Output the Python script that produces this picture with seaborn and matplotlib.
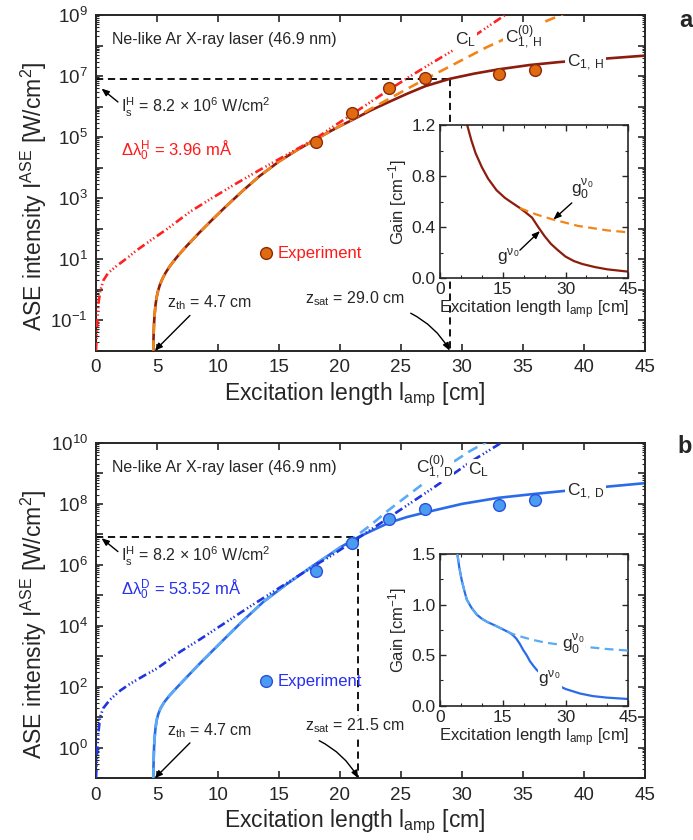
import numpy as np
import matplotlib
matplotlib.use("Agg")
import matplotlib.pyplot as plt
from matplotlib.ticker import LogLocator, FuncFormatter, MultipleLocator, NullFormatter
import seaborn as sns

# ---------------- panel a : homogeneous broadening ----------------
# shared low-intensity branch of C1,H and C1,H^(0) (log10 of W/cm^2)
h_low_x = [4.70, 4.71, 4.73, 4.76, 4.81, 4.88, 4.97, 5.1, 5.25, 5.45, 5.7, 6.0, 6.3, 6.6, 7.0, 7.5,
           8.5, 9.5, 10.5, 12.0, 13.4, 15.0, 16.5, 18.0, 19.2]
h_low_log = [-2.0, -1.7, -1.4, -1.1, -0.8, -0.5, -0.25, -0.02, 0.17, 0.36, 0.55, 0.74, 0.9, 1.05, 1.24, 1.46,
             1.88, 2.28, 2.67, 3.23, 3.72, 4.2, 4.58, 4.92, 5.19]
h_c10_x = [21.0, 22.5, 24.0, 25.5, 27.0, 29.5, 32.0, 34.5, 36.9, 38.4]
h_c10_log = [5.58, 5.92, 6.25, 6.58, 6.9, 7.42, 7.94, 8.4, 8.8, 9.05]
h_c1_x = [20.0, 21.0, 22.5, 24.0, 25.5, 27.0, 29.0, 31.0, 33.0, 35.5, 38.0, 42.0, 45.0]
h_c1_log = [5.36, 5.56, 5.87, 6.15, 6.42, 6.67, 6.91, 7.08, 7.22, 7.36, 7.46, 7.58, 7.67]
h_cl_x = [0.0, 0.06, 0.12, 0.2, 0.35, 0.6, 1.0, 1.7, 2.5, 3.3, 4.5, 5.8, 7.7, 9.5, 11.5, 13.4,
          15.9, 18.0, 19.2, 21.0, 22.5, 24.1, 25.7, 27.5, 29.3, 31.5, 33.6]
h_cl_log = [-2.0, -1.5, -1.0, -0.45, -0.05, 0.3, 0.55, 0.78, 1.02, 1.28, 1.62, 1.98, 2.55, 3.0, 3.48, 3.92,
            4.48, 4.95, 5.28, 5.75, 6.15, 6.57, 6.98, 7.42, 7.85, 8.45, 9.02]
h_exp_x = [18, 21, 24, 27, 33, 36]
h_exp_I = [7.1e4, 6.0e5, 4.0e6, 8.5e6, 1.2e7, 1.6e7]

# gain along the amplifier (inset a)
h_g_x = [6.5, 7.5, 8.5, 10.0, 11.5, 13.5, 15.5, 17.5, 19.1, 20.5, 22.0, 23.5, 25.0, 26.5, 28.0, 30.0,
         32.0, 34.0, 37.0, 40.0, 45.0]
h_g = [1.2, 1.08, 0.98, 0.87, 0.78, 0.69, 0.63, 0.585, 0.55, 0.515, 0.475, 0.40, 0.33, 0.27, 0.225, 0.17,
       0.135, 0.112, 0.088, 0.07, 0.052]
h_g0_x = [19.1, 21.0, 23.0, 25.0, 27.0, 30.0, 33.0, 36.0, 40.0, 45.0]
h_g0 = [0.55, 0.525, 0.50, 0.48, 0.46, 0.435, 0.41, 0.395, 0.375, 0.36]

# ---------------- panel b : Doppler broadening ----------------
d_low_x = [4.70, 4.71, 4.73, 4.76, 4.81, 4.88, 4.97, 5.1, 5.3, 5.6, 6.0, 6.5, 7.4, 8.5, 9.6, 10.4, 12.0,
           13.7, 15.5, 17.0, 18.0, 19.2]
d_low_log = [-1.0, -0.7, -0.35, 0.0, 0.35, 0.65, 0.9, 1.1, 1.3, 1.5, 1.7, 1.92, 2.3, 2.76, 3.2, 3.52, 4.15,
             4.78, 5.33, 5.75, 6.03, 6.35]
d_c10_x = [20.0, 21.0, 22.5, 24.0, 25.5, 27.4, 29.0, 30.6, 32.3]
d_c10_log = [6.57, 6.85, 7.3, 7.8, 8.26, 8.84, 9.3, 9.72, 10.1]
d_c1_x = [20.0, 21.0, 21.5, 22.5, 24.0, 25.5, 27.0, 30.0, 33.0, 36.0, 38.0, 42.0, 45.0]
d_c1_log = [6.57, 6.8, 6.91, 7.1, 7.38, 7.57, 7.72, 8.0, 8.2, 8.33, 8.41, 8.57, 8.68]
d_cl_x = [0.0, 0.05, 0.1, 0.2, 0.33, 0.6, 1.15, 2.0, 2.8, 4.0, 5.0, 6.9, 8.5, 10.4, 12.3, 14.3,
          16.5, 18.6, 19.2, 21.0, 23.3, 25.3, 27.4, 29.0, 30.7, 32.2, 33.4]
d_cl_log = [-1.0, -0.6, -0.1, 0.5, 1.0, 1.3, 1.58, 1.88, 2.1, 2.38, 2.6, 3.15, 3.55, 4.05, 4.55, 5.06,
            5.62, 6.14, 6.28, 6.75, 7.36, 7.9, 8.46, 8.9, 9.38, 9.75, 10.05]
d_exp_x = [18, 21, 24, 27, 33, 36]
d_exp_I = [6.5e5, 5.4e6, 3.1e7, 6.8e7, 9.1e7, 1.35e8]

d_g_x = [4.15, 4.6, 5.2, 5.8, 6.4, 7.5, 8.8, 10.0, 11.2, 12.8, 14.3, 15.5, 16.7, 17.5, 18.3, 19.1, 19.9,
         20.7, 21.5, 22.3, 23.1, 24.0, 25.5, 27.5, 30.0, 33.5, 36.5, 39.8, 45.0]
d_g = [1.5, 1.37, 1.24, 1.14, 1.05, 0.97, 0.90, 0.86, 0.83, 0.80, 0.77, 0.745, 0.72, 0.695, 0.66, 0.61, 0.55,
       0.50, 0.44, 0.395, 0.355, 0.32, 0.27, 0.215, 0.165, 0.12, 0.095, 0.08, 0.066]
d_g0_x = [4.15, 4.6, 5.2, 5.8, 6.4, 7.5, 8.8, 10.0, 11.2, 12.8, 14.3, 15.5, 16.7, 18.0, 20.0, 22.3, 25.0,
          27.5, 29.5, 32.0, 35.1, 40.0, 45.0]
d_g0 = [1.5, 1.37, 1.24, 1.14, 1.05, 0.97, 0.90, 0.86, 0.83, 0.80, 0.77, 0.745, 0.72, 0.70, 0.675, 0.65, 0.625,
        0.61, 0.60, 0.59, 0.58, 0.56, 0.545]

I_sat = 8.2e6
z_th = 4.7
z_sat_h = 29.0
z_sat_d = 21.5

sns.set_style("ticks")
plt.rcParams["font.family"] = ["Liberation Sans", "DejaVu Sans"]
plt.rcParams["mathtext.default"] = "regular"
plt.rcParams["axes.linewidth"] = 1.4

fig = plt.figure(figsize=(6.93, 8.4), dpi=100)
ax_a = fig.add_axes([0.1385, 0.5825, 0.7922, 0.3996])
ax_b = fig.add_axes([0.1385, 0.0735, 0.7922, 0.3992])
in_a = fig.add_axes([0.6349, 0.6687, 0.2717, 0.1825])
in_b = fig.add_axes([0.6349, 0.1599, 0.2717, 0.1806])

dashdotdot = (0, (3.2, 1.2, 0.5, 0.9, 0.5, 0.9, 0.5, 1.2))
dash = (0, (4.0, 2.4))
arrow_kw = dict(arrowstyle="-|>,head_length=0.45,head_width=0.18", color="black", lw=1.0,
                shrinkA=0, shrinkB=0)
white = dict(facecolor="white", edgecolor="none", pad=1.0)


def line(ax, x, y, color, ls="-", lw=1.8, z=2):
    sns.lineplot(x=np.asarray(x, float), y=np.asarray(y, float), ax=ax, color=color,
                 linewidth=lw, linestyle=ls, estimator=None, sort=False, zorder=z)


def main_style(ax, ylo, yhi, odd):
    ax.set_xlim(0, 45)
    ax.set_yscale("log")
    ax.set_ylim(ylo, yhi)
    ax.xaxis.set_major_locator(MultipleLocator(5))
    ax.yaxis.set_major_locator(LogLocator(base=10, numticks=40))
    ax.yaxis.set_minor_locator(LogLocator(base=10, subs=np.arange(2, 10), numticks=40))
    ax.yaxis.set_minor_formatter(NullFormatter())

    def fmt(v, pos):
        e = int(round(np.log10(v)))
        keep = (e % 2 == 1) if odd else (e % 2 == 0)
        return f"10$^{{{e}}}$" if keep else ""

    ax.yaxis.set_major_formatter(FuncFormatter(fmt))
    ax.tick_params(which="both", direction="in", top=True, right=True, labelsize=13.5, pad=6)
    ax.tick_params(which="major", length=5, width=1.2)
    ax.tick_params(which="minor", length=2.5, width=0.8)
    ax.set_xlabel("Excitation length l$_{amp}$ [cm]", fontsize=16.5)
    ax.set_ylabel("ASE intensity I$^{ASE}$ [W/cm$^2$]", fontsize=16.5)
    ax.xaxis.set_label_coords(0.472, -0.088)
    ax.yaxis.set_label_coords(-0.085, 0.46)
    for s in ax.spines.values():
        s.set_linewidth(1.4)


def inset_style(ax, ytop, ymajor, yminor):
    ax.set_xlim(0, 45)
    ax.set_ylim(0, ytop)
    ax.xaxis.set_major_locator(MultipleLocator(15))
    ax.xaxis.set_minor_locator(MultipleLocator(5))
    ax.yaxis.set_major_locator(MultipleLocator(ymajor))
    ax.yaxis.set_minor_locator(MultipleLocator(yminor))
    ax.yaxis.set_major_formatter(FuncFormatter(lambda v, p: f"{v:.1f}"))
    ax.tick_params(which="both", direction="in", top=True, right=True, labelsize=12.5, pad=3)
    ax.tick_params(which="major", length=4, width=1.0)
    ax.tick_params(which="minor", length=2, width=0.8)
    ax.set_xlabel("Excitation length l$_{amp}$ [cm]", fontsize=12, labelpad=1)
    ax.set_ylabel("Gain [cm$^{-1}$]", fontsize=12, labelpad=2)
    for s in ax.spines.values():
        s.set_linewidth(1.2)


def panel(ax, inset, low_x, low_log, c10_x, c10_log, c1_x, c1_log, cl_x, cl_log, exp_x, exp_I,
          g_x, g, g0_x, g0, z_sat, cols, ylo, yhi, odd, name, dl_text, lab_pos, exp_y, zth_y, gaps):
    c_solid, c_dash, c_l, c_fill, c_edge, c_txt = cols
    low_I = 10.0 ** np.asarray(low_log)
    # saturated solution, small-signal solution, linear model
    line(ax, list(low_x) + list(c1_x), list(low_I) + list(10.0 ** np.asarray(c1_log)), c_solid, "-", 1.9, 2)
    line(ax, list(low_x) + list(c10_x), list(low_I) + list(10.0 ** np.asarray(c10_log)), c_dash, dash, 1.9, 3)
    line(ax, cl_x, 10.0 ** np.asarray(cl_log), c_l, dashdotdot, 1.9, 4)
    sns.scatterplot(x=exp_x, y=exp_I, ax=ax, s=72, color=c_fill, edgecolor=c_edge, linewidth=1.0, zorder=5)

    # saturation intensity / length guides
    ax.plot([0, z_sat], [I_sat, I_sat], color="black", lw=1.3, ls=(0, (4, 2.6)), zorder=1)
    ax.plot([z_sat, z_sat], [I_sat, ylo], color="black", lw=1.3, ls=(0, (4, 2.6)), zorder=1)

    main_style(ax, ylo, yhi, odd)

    ax.text(0.030, 0.928, "Ne-like Ar X-ray laser (46.9 nm)", transform=ax.transAxes,
            fontsize=11.5, va="center", ha="left")
    ax.text(0.045, lab_pos[0], "I$_s^H$ = 8.2 × 10$^6$ W/cm$^2$", transform=ax.transAxes,
            fontsize=11.5, va="center", ha="left")
    ax.annotate("", xy=(0.010, lab_pos[0] + 0.055), xytext=(0.040, lab_pos[0] + 0.015),
                xycoords="axes fraction", arrowprops=arrow_kw)
    ax.text(0.045, lab_pos[1], dl_text, transform=ax.transAxes, fontsize=12,
            va="center", ha="left", color=c_txt)

    (clx, cly), (c0x, c0y), (c1x, c1y) = lab_pos[2]
    ax.text(clx, cly, "C$_L$", fontsize=12.5, va="center", ha="left", bbox=white, zorder=6)
    ax.text(c0x, c0y, "C$^{(0)}_{1,\\,%s}$" % name, fontsize=12.5, va="center", ha="left",
            bbox=white, zorder=6)
    ax.text(c1x, c1y, "C$_{1,\\,%s}$" % name, fontsize=12.5, va="center", ha="left",
            bbox=dict(facecolor="white", edgecolor="none", pad=1.5), zorder=6)

    sns.scatterplot(x=[13.9], y=[exp_y], ax=ax, s=72, color=c_fill, edgecolor=c_edge, linewidth=1.0, zorder=5)
    ax.text(14.9, exp_y, "Experiment", fontsize=12, va="center", ha="left", color=c_txt)

    ax.text(5.8, zth_y, "z$_{th}$ = 4.7 cm", fontsize=11.5, va="center", ha="left")
    ax.annotate("", xy=(z_th + 0.12, ylo), xytext=(7.7, zth_y / 2.6),
                arrowprops=arrow_kw)
    ax.text(17.1, zth_y * 1.4, "z$_{sat}$ = %.1f cm" % z_sat, fontsize=11.5, va="center", ha="left",
            bbox=dict(facecolor="white", edgecolor="none", pad=0.5), zorder=6)
    ax.annotate("", xy=(z_sat, ylo), xytext=(z_sat - 3.2, zth_y / 2.2),
                arrowprops=dict(arrow_kw, connectionstyle="arc3,rad=-0.15"))

    # gain inset
    line(inset, g_x, g, c_solid, "-", 1.6, 2)
    line(inset, g0_x, g0, c_dash, dash, 1.6, 3)
    for (tx, ty, txt, box) in gaps:
        kw = dict(bbox=dict(facecolor="white", edgecolor="none", pad=0.5)) if box else {}
        inset.text(tx, ty, txt, fontsize=12.5, ha="center", va="center", zorder=6, **kw)


red_cols = ("#8c1c0c", "#f28418", "#ff2222", "#e06a10", "#8c2a0a", "#ff1a1a")
blue_cols = ("#2a6bea", "#5aaaf5", "#1f35e0", "#4a9cf0", "#2a50dd", "#2630ee")

panel(ax_a, in_a, h_low_x, h_low_log, h_c10_x, h_c10_log, h_c1_x, h_c1_log, h_cl_x, h_cl_log,
      h_exp_x, h_exp_I, h_g_x, h_g, h_g0_x, h_g0, z_sat_h, red_cols, 1e-2, 1e9, True, "H",
      "$\\Delta\\lambda_0^H$ = 3.96 mÅ",
      (0.726, 0.596, ((29.4, 10 ** 8.18), (33.5, 10 ** 8.28), (38.6, 10 ** 7.43))),
      10 ** 1.2, 10 ** -0.43,
      [(34.0, 0.69, "g$_0^{\\nu_0}$", False), (16.2, 0.17, "g$^{\\nu_0}$", False)])
inset_style(in_a, 1.2, 0.4, 0.2)
in_a.annotate("", xy=(27.1, 0.46), xytext=(31.5, 0.59), arrowprops=arrow_kw)
in_a.annotate("", xy=(23.9, 0.37), xytext=(19.1, 0.22), arrowprops=arrow_kw)

panel(ax_b, in_b, d_low_x, d_low_log, d_c10_x, d_c10_log, d_c1_x, d_c1_log, d_cl_x, d_cl_log,
      d_exp_x, d_exp_I, d_g_x, d_g, d_g0_x, d_g0, z_sat_d, blue_cols, 1e-1, 1e10, False, "D",
      "$\\Delta\\lambda_0^D$ = 53.52 mÅ",
      (0.661, 0.562, ((30.5, 10 ** 9.11), (26.2, 10 ** 9.22), (38.6, 10 ** 8.4))),
      10 ** 2.18, 10 ** 0.575,
      [(31.8, 0.60, "g$_0^{\\nu_0}$", True), (26.2, 0.27, "g$^{\\nu_0}$", True)])
inset_style(in_b, 1.5, 0.5, 0.25)

fig.text(0.999, 0.976, "a", fontsize=17, fontweight="bold", ha="right", va="center")
fig.text(0.999, 0.468, "b", fontsize=17, fontweight="bold", ha="right", va="center")

fig.savefig("out.png", dpi=100)
